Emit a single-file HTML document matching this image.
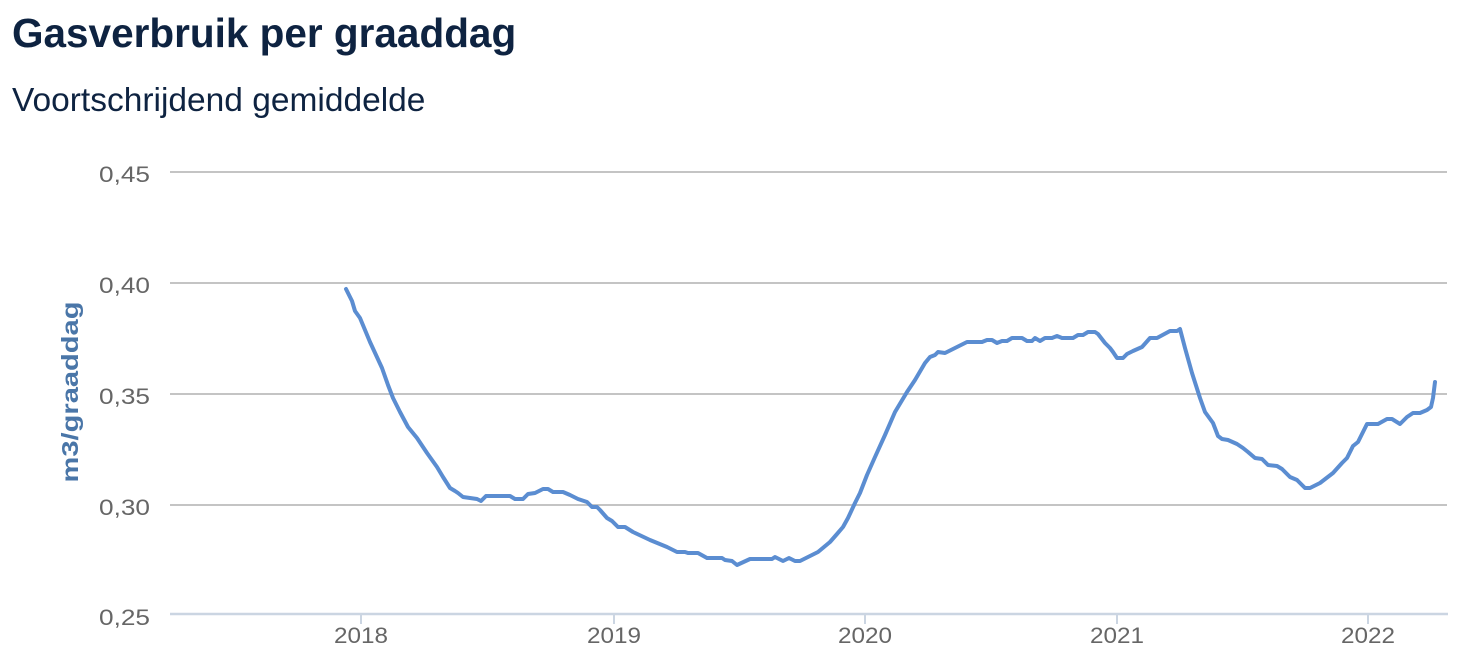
<!DOCTYPE html>
<html>
<head>
<meta charset="utf-8">
<style>
  html,body{margin:0;padding:0;background:#fff;}
  body{width:1471px;height:666px;overflow:hidden;position:relative;}
  svg{position:absolute;left:0;top:0;}
</style>
</head>
<body>
<svg width="1471" height="666" viewBox="0 0 1471 666" xmlns="http://www.w3.org/2000/svg">
  <text x="12" y="47" font-family="Liberation Sans, Arial, sans-serif" font-weight="bold" font-size="40.5" fill="#0e2341">Gasverbruik per graaddag</text>
  <text x="12" y="111" font-family="Liberation Sans, Arial, sans-serif" font-size="33.5" fill="#0e2341">Voortschrijdend gemiddelde</text>

  <!-- gridlines -->
  <g stroke="#c4c4c4" stroke-width="2">
    <line x1="170" y1="172" x2="1447" y2="172"/>
    <line x1="170" y1="283" x2="1447" y2="283"/>
    <line x1="170" y1="394" x2="1447" y2="394"/>
    <line x1="170" y1="505" x2="1447" y2="505"/>
  </g>
  <!-- x axis -->
  <line x1="170" y1="614" x2="1448" y2="614" stroke="#cbd5e2" stroke-width="2.5"/>
  <g stroke="#cbd5e2" stroke-width="2">
    <line x1="361" y1="614" x2="361" y2="624"/>
    <line x1="614" y1="614" x2="614" y2="624"/>
    <line x1="865" y1="614" x2="865" y2="624"/>
    <line x1="1117" y1="614" x2="1117" y2="624"/>
    <line x1="1368" y1="614" x2="1368" y2="624"/>
  </g>

  <!-- y labels -->
  <g font-family="Liberation Sans, Arial, sans-serif" font-size="22" fill="#666666" text-anchor="end">
    <text x="150" y="182" textLength="51" lengthAdjust="spacingAndGlyphs">0,45</text>
    <text x="150" y="293" textLength="51" lengthAdjust="spacingAndGlyphs">0,40</text>
    <text x="150" y="404" textLength="51" lengthAdjust="spacingAndGlyphs">0,35</text>
    <text x="150" y="515" textLength="51" lengthAdjust="spacingAndGlyphs">0,30</text>
    <text x="150" y="625" textLength="51" lengthAdjust="spacingAndGlyphs">0,25</text>
  </g>
  <!-- x labels -->
  <g font-family="Liberation Sans, Arial, sans-serif" font-size="22" fill="#666666">
    <text x="334" y="643" textLength="54" lengthAdjust="spacingAndGlyphs">2018</text>
    <text x="587" y="643" textLength="54" lengthAdjust="spacingAndGlyphs">2019</text>
    <text x="838" y="643" textLength="54" lengthAdjust="spacingAndGlyphs">2020</text>
    <text x="1090" y="643" textLength="54" lengthAdjust="spacingAndGlyphs">2021</text>
    <text x="1341" y="643" textLength="54" lengthAdjust="spacingAndGlyphs">2022</text>
  </g>

  <!-- y axis title -->
  <text transform="translate(78,392) rotate(-90)" text-anchor="middle" font-family="Liberation Sans, Arial, sans-serif" font-weight="bold" font-size="23" fill="#4a76a8" textLength="181" lengthAdjust="spacingAndGlyphs">m3/graaddag</text>

  <!-- series -->
  <polyline fill="none" stroke="#5b8dd1" stroke-width="4" stroke-linejoin="round" stroke-linecap="round" points="
346,289 352,301 355,311 360,318 365,330 370,342 376,355 382,368 388,385 393,398 400,412 408,427 417,438 427,453 437,467 443,477 450,488 455,491 458,493 463,497 470,498 477,499 481,501 486,496 510,496 515,499 523,499 528,494 535,493 543,489 548,489 553,492 563,492 570,495 578,499 587,502 592,507 597,507 600,510 607,518 612,521 618,527 625,527 633,532 650,540 667,547 677,552 685,552 688,553 698,553 707,558 722,558 725,560 732,561 737,565 750,559 772,559 775,557 783,561 789,558 795,561 800,561 808,557 818,552 830,542 837,534 843,527 848,518 855,503 860,493 867,475 875,457 885,435 895,412 907,392 915,380 925,363 930,357 935,355 938,352 945,353 957,347 967,342 982,342 987,340 992,340 997,343 1002,341 1007,341 1012,338 1022,338 1027,341 1032,341 1035,338 1040,341 1045,338 1052,338 1057,336 1062,338 1073,338 1078,335 1083,335 1088,332 1095,332 1098,334 1105,343 1110,348 1113,352 1117,358 1123,358 1127,354 1133,351 1142,347 1150,338 1157,338 1170,331 1177,331 1180,329 1185,348 1192,373 1200,398 1205,412 1213,423 1218,436 1222,439 1228,440 1237,444 1243,448 1248,452 1255,458 1262,459 1268,465 1277,466 1282,469 1290,477 1297,480 1305,488 1310,488 1320,483 1333,473 1342,463 1347,458 1353,446 1358,442 1367,424 1372,424 1378,424 1387,419 1392,419 1400,424 1407,417 1413,413 1420,413 1427,410 1431,407 1433,398 1435,382"/>
</svg>
</body>
</html>
